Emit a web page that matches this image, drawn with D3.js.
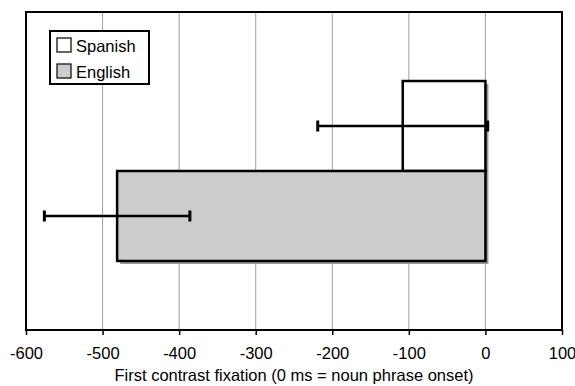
<!DOCTYPE html>
<html>
<head>
<meta charset="utf-8">
<script src="https://cdn.jsdelivr.net/npm/d3@7"></script>
<style>
  body { margin: 0; background: #fff; }
  text { font-family: "Liberation Sans", Arial, sans-serif; }
</style>
</head>
<body>
<svg class="chart"></svg>
<script>
// values (ms relative to noun phrase onset)
const groups = ['Spanish', 'English'];
const means = [-108, -481];
const errors = [111, 95];
const fills = ['#ffffff', '#cccccc'];
const ticks = [-600, -500, -400, -300, -200, -100, 0, 100];
const xTitle = 'First contrast fixation (0 ms = noun phrase onset)';

window.onload = function() {
    let margin = {top: 12, right: 13, bottom: 56, left: 26};
    let width = 575 - margin.left - margin.right,
        height = 386 - margin.top - margin.bottom;

    let svg = d3.select('.chart')
        .attr('width', 575)
        .attr('height', 386);
    let g = svg.append('g')
        .attr('transform', `translate(${margin.left},${margin.top})`);

    let x = d3.scaleLinear()
        .domain([-600, 100])
        .range([0, width]);

    let y = d3.scaleBand()
        .domain(groups)
        .range([0, height])
        .paddingInner(0)
        .paddingOuter(0.767);

    // vertical gridlines
    g.selectAll('.grid')
        .data(ticks.slice(1, -1))
      .enter().append('line')
        .attr('x1', d => x(d)).attr('x2', d => x(d))
        .attr('y1', 0).attr('y2', height)
        .attr('stroke', '#a0a0a0')
        .attr('stroke-width', 1);

    let bars = groups.map((k, i) => ({name: k, mean: means[i], err: errors[i], fill: fills[i]}));

    // shadows first, then bars
    g.selectAll('.shadow')
        .data(bars)
      .enter().append('rect')
        .attr('x', d => x(d.mean) + 3)
        .attr('y', d => y(d.name) + 3)
        .attr('width', d => x(0) - x(d.mean))
        .attr('height', y.bandwidth())
        .attr('fill', '#999');

    g.selectAll('.bar')
        .data(bars)
      .enter().append('rect')
        .attr('x', d => x(d.mean))
        .attr('y', d => y(d.name))
        .attr('width', d => x(0) - x(d.mean))
        .attr('height', y.bandwidth())
        .attr('fill', d => d.fill)
        .attr('stroke', '#000')
        .attr('stroke-width', 2.5);

    // error bars
    let eb = g.selectAll('.err')
        .data(bars)
      .enter().append('g');
    eb.append('line')
        .attr('x1', d => x(d.mean - d.err))
        .attr('x2', d => x(d.mean + d.err))
        .attr('y1', d => y(d.name) + y.bandwidth() / 2)
        .attr('y2', d => y(d.name) + y.bandwidth() / 2)
        .attr('stroke', '#000').attr('stroke-width', 2.5);
    [-1, 1].forEach(s => {
        eb.append('line')
            .attr('x1', d => x(d.mean + s * d.err))
            .attr('x2', d => x(d.mean + s * d.err))
            .attr('y1', d => y(d.name) + y.bandwidth() / 2 - 5.5)
            .attr('y2', d => y(d.name) + y.bandwidth() / 2 + 5.5)
            .attr('stroke', '#000').attr('stroke-width', 3);
    });

    // frame
    g.append('rect')
        .attr('width', width).attr('height', height)
        .attr('fill', 'none')
        .attr('stroke', '#000')
        .attr('stroke-width', 2);

    // x axis, plain hyphen for negatives
    let axis = g.append('g')
        .attr('transform', `translate(0,${height})`)
        .call(d3.axisBottom(x).tickValues(ticks).tickSize(5).tickPadding(12).tickFormat(d => String(d)));
    axis.select('.domain').remove();
    axis.selectAll('line').attr('stroke', '#000').attr('stroke-width', 1.5);
    axis.selectAll('text')
        .attr('font-size', 16.5)
        .attr('fill', '#000')
        .style('font-family', '"Liberation Sans", Arial, sans-serif');

    g.append('text')
        .attr('x', width / 2)
        .attr('y', height + 51)
        .attr('text-anchor', 'middle')
        .attr('font-size', 16.5)
        .text(xTitle);

    // legend
    let lg = g.append('g').attr('transform', 'translate(24,19)');
    lg.append('rect')
        .attr('width', 99).attr('height', 53)
        .attr('fill', '#fff').attr('stroke', '#000').attr('stroke-width', 2);
    let items = lg.selectAll('.item')
        .data(bars)
      .enter().append('g')
        .attr('transform', (d, i) => `translate(7,${7 + i * 26})`);
    items.append('rect')
        .attr('width', 14).attr('height', 14)
        .attr('fill', d => d.fill)
        .attr('stroke', '#000').attr('stroke-width', 1.2);
    items.append('text')
        .attr('x', 19).attr('y', 13.5)
        .attr('font-size', 16.5)
        .text(d => d.name);
};
</script>
</body>
</html>
